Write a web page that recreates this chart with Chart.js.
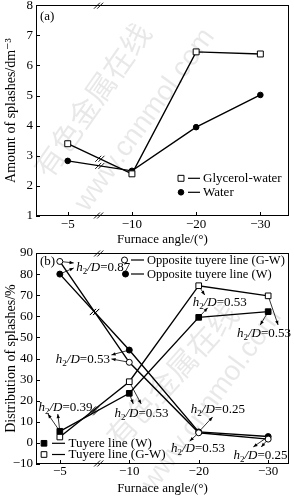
<!DOCTYPE html>
<html><head><meta charset="utf-8">
<script src="https://cdn.jsdelivr.net/npm/chart.js@4.4.1/dist/chart.umd.min.js"></script>
<style>
html,body{margin:0;padding:0;background:#fff;width:294px;height:496px;overflow:hidden;position:relative}
canvas{position:absolute;left:0}
#ca{top:0}
#cb{top:240px}
</style></head><body>
<canvas id="ca" width="294" height="248"></canvas>
<canvas id="cb" width="294" height="256"></canvas>
<script>
// ---- data ----
const angleLabels = ['\u22125', '\u221210', '\u221220', '\u221230'];
const glycerolWater = [3.4, 2.4, 6.45, 6.38];
const water = [2.83, 2.5, 3.95, 5.02];
const amountTicks = [1, 2, 3, 4, 5, 6, 7, 8];

const oppositeGW = [86, 38.2, 4.8, 1.8];
const oppositeW = [80, 44, 5.2, 3.0];
const tuyereW = [5.5, 23.5, 59.5, 62.2];
const tuyereGW = [2.8, 29, 74.5, 69.7];
const distTicks = [-10, 0, 10, 20, 30, 40, 50, 60, 70, 80, 90];

const h2dValues = ['0.87', '0.53', '0.53', '0.53', '0.39', '0.53', '0.25', '0.53', '0.25'];

// ---- helpers ----
const SERIF = '"Liberation Serif", "DejaVu Serif", serif';
const catIdx = angleLabels.map((_, i) => i);
const pts = vals => vals.map((v, i) => ({ x: catIdx[i], y: v }));
const fmt = v => (v < 0 ? '\u2212' + Math.abs(v) : String(v));

function lineDs(label, vals, style, filled, r) {
  return {
    label, data: pts(vals), borderColor: '#000', borderWidth: 1.4,
    pointStyle: style, pointRadius: r, pointBorderWidth: 1,
    pointBorderColor: '#000', pointBackgroundColor: filled ? '#000' : '#fff',
    tension: 0, fill: false
  };
}

function drawMarker(ctx, x, y, style, filled, r) {
  ctx.save();
  ctx.lineWidth = 1; ctx.strokeStyle = '#000'; ctx.fillStyle = filled ? '#000' : '#fff';
  ctx.beginPath();
  if (style === 'rect') { const s = r * Math.SQRT1_2; ctx.rect(x - s, y - s, 2 * s, 2 * s); }
  else ctx.arc(x, y, r, 0, Math.PI * 2);
  ctx.fill(); ctx.stroke();
  ctx.restore();
}

function breakMark(ctx, x, y) {
  ctx.save();
  ctx.strokeStyle = '#000'; ctx.lineWidth = 0.9;
  for (const d of [-1.6, 1.6]) {
    ctx.beginPath();
    ctx.moveTo(x + d - 3, y + 3); ctx.lineTo(x + d + 3, y - 3); ctx.stroke();
  }
  ctx.restore();
}

function arrow(ctx, x1, y1, x2, y2) {
  const a = Math.atan2(y2 - y1, x2 - x1);
  const sx = x1 + Math.cos(a) * 3, sy = y1 + Math.sin(a) * 3;
  ctx.save();
  ctx.strokeStyle = '#000'; ctx.fillStyle = '#000'; ctx.lineWidth = 0.8;
  ctx.beginPath(); ctx.moveTo(sx, sy); ctx.lineTo(x2, y2); ctx.stroke();
  const h = 4.5, w = 0.38;
  ctx.beginPath();
  ctx.moveTo(x2, y2);
  ctx.lineTo(x2 - h * Math.cos(a - w), y2 - h * Math.sin(a - w));
  ctx.lineTo(x2 - h * Math.cos(a + w), y2 - h * Math.sin(a + w));
  ctx.closePath(); ctx.fill();
  ctx.restore();
}

function h2d(ctx, x, cy, val) {
  const by = cy + 4.5;
  ctx.save();
  ctx.fillStyle = '#000'; ctx.textBaseline = 'alphabetic'; ctx.textAlign = 'left';
  ctx.font = 'italic 13px ' + SERIF; ctx.fillText('h', x, by); x += ctx.measureText('h').width;
  ctx.font = '9px ' + SERIF; ctx.fillText('2', x, by + 3); x += ctx.measureText('2').width;
  ctx.font = 'italic 13px ' + SERIF; ctx.fillText('/D', x, by); x += ctx.measureText('/D').width;
  ctx.font = '13px ' + SERIF; ctx.fillText('=' + val, x, by);
  ctx.restore();
}

function watermark(ctx, text, cx, cy, deg, font) {
  ctx.save();
  ctx.translate(cx, cy); ctx.rotate(deg * Math.PI / 180);
  ctx.font = font; ctx.fillStyle = 'rgba(0,0,0,0.09)';
  ctx.textAlign = 'center'; ctx.textBaseline = 'middle';
  ctx.fillText(text, 0, 0);
  ctx.restore();
}

const deco = {
  id: 'deco',
  beforeDatasetsDraw(chart, args, o) {
    const ctx = chart.ctx;
    for (const w of o.watermarks) watermark(ctx, w[0], w[1], w[2], w[3], w[4]);
  },
  afterDraw(chart, args, o) {
    const ctx = chart.ctx, ca = chart.chartArea, xs = chart.scales.x, ys = chart.scales.y;
    ctx.save();
    // frame
    ctx.strokeStyle = '#000'; ctx.lineWidth = 1;
    ctx.strokeRect(Math.round(ca.left) + 0.5, Math.round(ca.top) + 0.5,
      Math.round(ca.right - ca.left) - 1, Math.round(ca.bottom - ca.top) - 1);
    // inward ticks
    ctx.beginPath();
    for (const t of ys.ticks) {
      const y = Math.round(ys.getPixelForValue(t.value)) + 0.5;
      ctx.moveTo(ca.left, y); ctx.lineTo(ca.left + 4, y);
    }
    for (const t of xs.ticks) {
      const x = Math.round(xs.getPixelForValue(t.value)) + 0.5;
      ctx.moveTo(x, ca.bottom); ctx.lineTo(x, ca.bottom - 4);
    }
    ctx.stroke();
    // axis breaks
    const bx = xs.getPixelForValue(o.axisBreak);
    breakMark(ctx, bx, ca.top + 0.5);
    breakMark(ctx, bx, ca.bottom - 0.5);
    // line breaks
    for (const ds of chart.data.datasets) {
      const d = ds.data;
      const x = xs.getPixelForValue(o.lineBreak);
      const f = (o.lineBreak - d[0].x) / (d[1].x - d[0].x);
      const y = ys.getPixelForValue(d[0].y) + f * (ys.getPixelForValue(d[1].y) - ys.getPixelForValue(d[0].y));
      breakMark(ctx, x, y);
    }
    // panel label
    ctx.fillStyle = '#000'; ctx.font = '13px ' + SERIF; ctx.textBaseline = 'middle'; ctx.textAlign = 'left';
    ctx.fillText(o.panel, ca.left + o.panelDx, ca.top + o.panelDy);
    // legend
    for (const it of o.legend) {
      const ds = chart.data.datasets[it.ds];
      const mx = it.x, my = it.y;
      drawMarker(ctx, mx, my, ds.pointStyle, ds.pointBackgroundColor === '#000', ds.pointRadius);
      ctx.strokeStyle = '#000'; ctx.lineWidth = 1.2;
      ctx.beginPath(); ctx.moveTo(it.l1, my); ctx.lineTo(it.l2, my); ctx.stroke();
      ctx.fillStyle = '#000'; ctx.font = (it.fs || 13) + 'px ' + SERIF; ctx.textBaseline = 'middle';
      ctx.fillText(ds.label, it.tx, my + 0.5);
    }
    // annotations
    (o.notes || []).forEach((n, i) => {
      h2d(ctx, xs.getPixelForValue(n.at[0]), ys.getPixelForValue(n.at[1]), h2dValues[i]);
      for (const a of n.arrows) {
        arrow(ctx, xs.getPixelForValue(a[0]), ys.getPixelForValue(a[1]),
          xs.getPixelForValue(a[2]), ys.getPixelForValue(a[3]));
      }
    });
    ctx.restore();
  }
};

function makeChart(id, cfg) {
  const font = { family: SERIF, size: 13 };
  return new Chart(document.getElementById(id), {
    type: 'line',
    data: { datasets: cfg.datasets },
    options: {
      responsive: false, animation: false, events: [], devicePixelRatio: 1,
      layout: { padding: { top: cfg.padTop, right: 3, left: 0, bottom: 0 } },
      plugins: { legend: { display: false }, tooltip: { enabled: false }, deco: cfg.deco },
      scales: {
        x: {
          type: 'linear', min: cfg.xmin, max: cfg.xmax,
          afterBuildTicks: s => { s.ticks = catIdx.map(i => ({ value: i })); },
          ticks: { callback: v => angleLabels[v], font, color: '#000', padding: cfg.xTickPad, maxRotation: 0, autoSkip: false },
          grid: { display: false, drawTicks: false }, border: { display: false },
          title: { display: true, text: 'Furnace angle/(\u00B0)', font, color: '#000', padding: { top: 0, bottom: cfg.xTitlePad } },
          afterFit: s => { s.height = cfg.xHeight; s.paddingLeft = 0; s.paddingRight = 0; }
        },
        y: {
          type: 'linear', min: cfg.ymin, max: cfg.ymax,
          afterBuildTicks: s => { s.ticks = cfg.yTicks.map(v => ({ value: v })); },
          ticks: { callback: v => fmt(v), font, color: '#000', padding: 3, autoSkip: false },
          grid: { display: false, drawTicks: false }, border: { display: false },
          title: { display: true, text: cfg.yTitle, font: { family: SERIF, size: 14 }, color: '#000', padding: { top: 3, bottom: 0 } },
          afterFit: s => { s.width = 36; s.paddingTop = 0; s.paddingBottom = 0; }
        }
      }
    },
    plugins: [deco]
  });
}

// ---- panel (a) ----
makeChart('ca', {
  datasets: [
    lineDs('Glycerol-water', glycerolWater, 'rect', false, 4.2),
    lineDs('Water', water, 'circle', true, 2.8)
  ],
  xmin: -0.494, xmax: 3.443, ymin: 1, ymax: 8, yTicks: amountTicks,
  yTitle: 'Amount of splashes/dm\u207B\u00B3',
  padTop: 4, xHeight: 32, xTickPad: 1, xTitlePad: 1,
  deco: {
    axisBreak: 0.48, lineBreak: 0.5, panel: '(a)', panelDx: 4, panelDy: 11,
    legend: [
      { ds: 0, x: 181, y: 178.3, l1: 188, l2: 200, tx: 203 },
      { ds: 1, x: 181, y: 192.3, l1: 188, l2: 200, tx: 203 }
    ],
    watermarks: [
      ['\u6709\u8272\u91D1\u5C5E\u5728\u7EBF', 92, 100, -55, '30px "Noto Sans CJK SC"'],
      ['www.cnnmol.com', 145, 120, -54, '28px "Liberation Sans"']
    ]
  }
});

// ---- panel (b) ----
makeChart('cb', {
  datasets: [
    lineDs('Opposite tuyere line (G-W)', oppositeGW, 'circle', false, 3),
    lineDs('Opposite tuyere line (W)', oppositeW, 'circle', true, 3),
    lineDs('Tuyere line (W)', tuyereW, 'rect', true, 4),
    lineDs('Tuyere line (G-W)', tuyereGW, 'rect', false, 4)
  ],
  xmin: -0.343, xmax: 3.3, ymin: -10, ymax: 90, yTicks: distTicks,
  yTitle: 'Distribution of splashes/%',
  padTop: 13, xHeight: 32, xTickPad: 0, xTitlePad: 0,
  deco: {
    axisBreak: 0.56, lineBreak: 0.5, panel: '(b)', panelDx: 4, panelDy: 9,
    legend: [
      { ds: 0, x: 124.5, y: 20, l1: 131, l2: 144, tx: 147, fs: 12.5 },
      { ds: 1, x: 125.5, y: 34, l1: 131, l2: 144, tx: 147, fs: 12.5 },
      { ds: 2, x: 44, y: 203.3, l1: 52, l2: 65, tx: 68.5 },
      { ds: 3, x: 44, y: 214.5, l1: 52, l2: 65, tx: 68.5 }
    ],
    notes: [
      { at: [0.236, 83.4], arrows: [[0, oppositeGW[0], 0.2, 85.3], [0, oppositeW[0], 0.2, 82.9]] },
      { at: [1.914, 66.8], arrows: [[2, tuyereGW[2], 2.086, 70.1], [2, tuyereW[2], 2.129, 64]] },
      { at: [2.55, 52.1], arrows: [[3, tuyereW[3], 2.886, 55.9], [3, tuyereGW[3], 3.143, 55.9]] },
      { at: [-0.057, 39.8], arrows: [[1, oppositeW[1], 0.743, 41.7], [1, oppositeGW[1], 0.743, 39.8]] },
      { at: [-0.307, 17.1], arrows: [[0, tuyereW[0], -0.171, 13.7], [0, tuyereW[0], -0.029, 13.7]] },
      { at: [0.786, 14.2], arrows: [[1, tuyereW[1], 1.057, 18.5], [1, tuyereGW[1], 1.171, 18.5]] },
      { at: [1.886, 16.1], arrows: [[2, oppositeW[2], 2.2, 12.3]] },
      { at: [1.6, -2.4], arrows: [[2, oppositeGW[2], 1.871, 0.9]] },
      { at: [2.5, -5.7], arrows: [[3, oppositeW[3], 2.786, -1.9], [3, oppositeGW[3], 2.9, -1.9]] }
    ],
    watermarks: [
      ['\u6709\u8272\u91D1\u5C5E\u5728\u7EBF', 172, 135, -48, '30px "Noto Sans CJK SC"'],
      ['www.cnnmol.com', 212, 160, -54, '28px "Liberation Sans"']
    ]
  }
});
</script>
</body></html>
